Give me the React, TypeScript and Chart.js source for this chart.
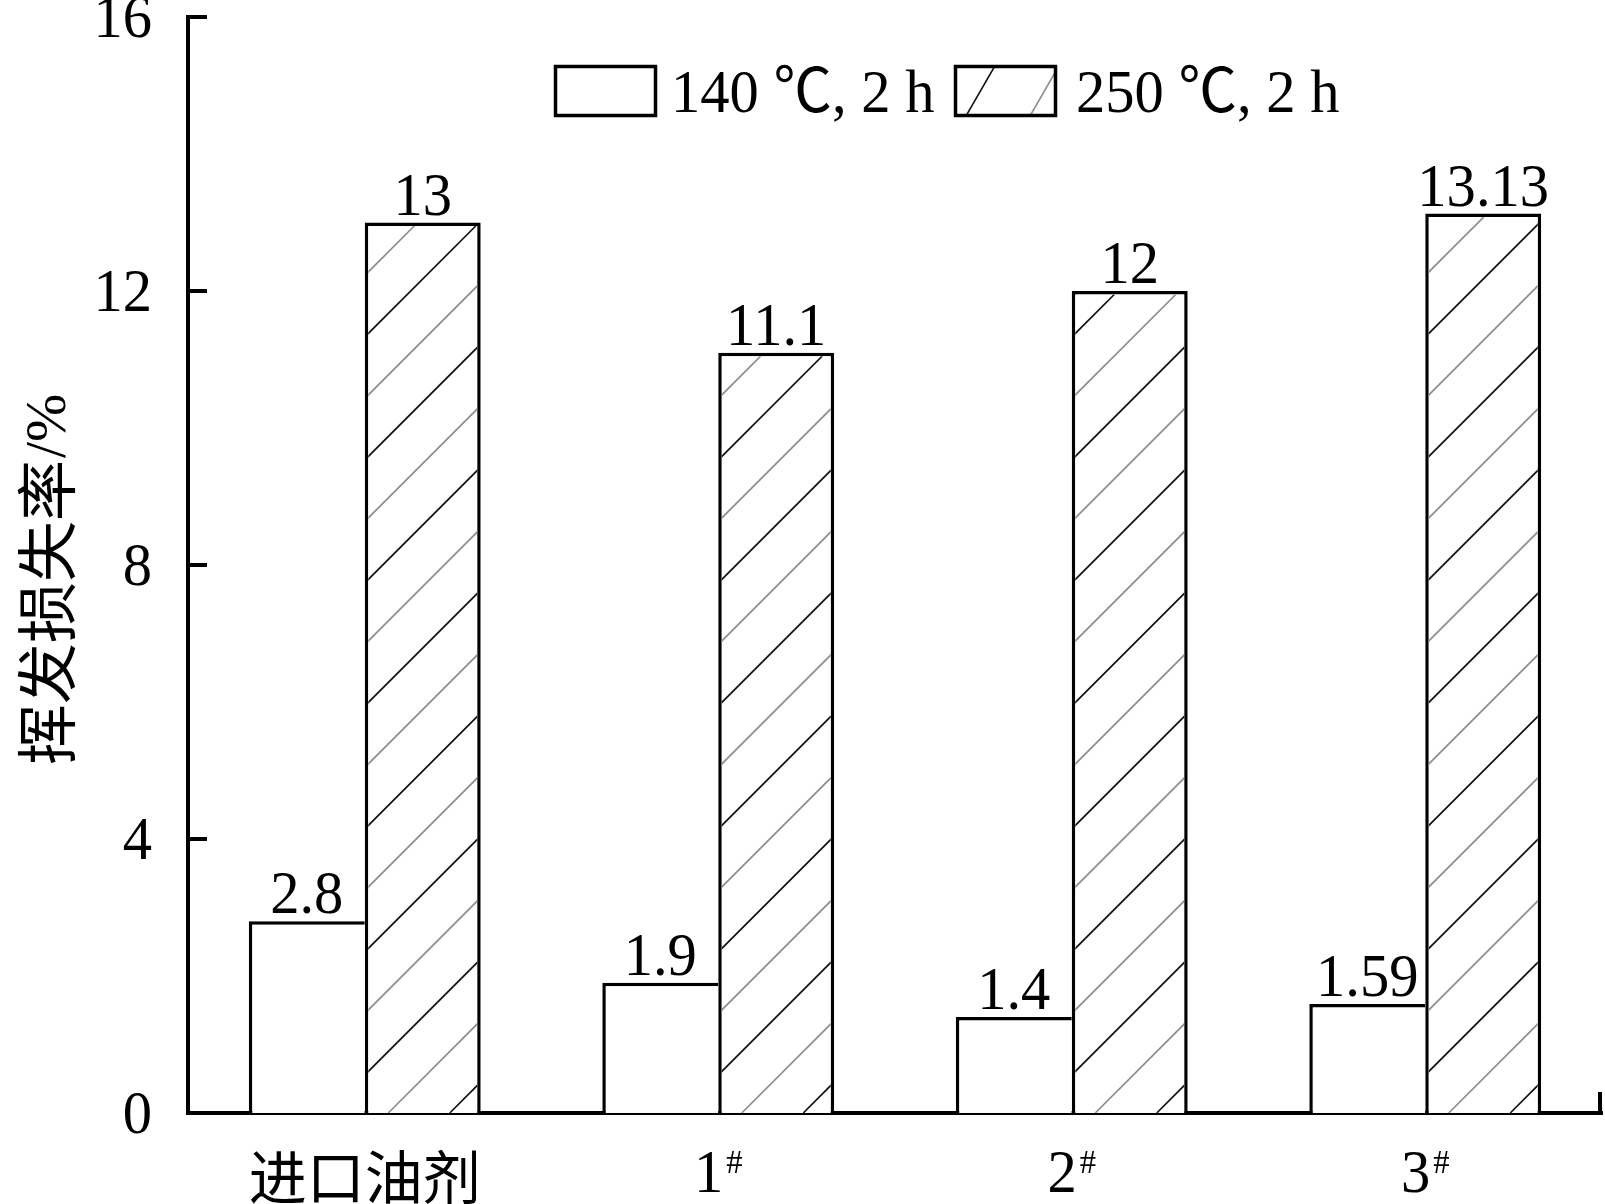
import React, { useEffect, useRef } from "react";
import { Chart, registerables } from "chart.js";

Chart.register(...registerables);

// Volatile loss (%) of the oil agents after 2 h at two temperatures
const categories = ["进口油剂", "1#", "2#", "3#"];
const series140 = [2.8, 1.9, 1.4, 1.59];
const series250 = [13, 11.1, 12, 13.13];
const seriesLabels = ["140 ℃, 2 h", "250 ℃, 2 h"];
const yTicks = [0, 4, 8, 12, 16];
const yTitleMain = "挥发损失率";
const yTitleUnit = "/%";

const SERIF = '"Liberation Serif", "Noto Sans CJK SC", serif';
const CJK = '"Noto Sans CJK SC", sans-serif';
const SX = 0.96; // slight horizontal squeeze for the serif digits

function drawText(
  ctx: CanvasRenderingContext2D,
  s: string,
  x: number,
  y: number,
  font: string,
  sx: number,
  align: "left" | "center" | "right"
): number {
  ctx.save();
  ctx.font = font;
  ctx.textAlign = "left";
  ctx.textBaseline = "alphabetic";
  const w = ctx.measureText(s).width * sx;
  const x0 = align === "center" ? x - w / 2 : align === "right" ? x - w : x;
  ctx.translate(x0, y);
  ctx.scale(sx, 1);
  ctx.fillStyle = "#000";
  ctx.fillText(s, 0, 0);
  ctx.restore();
  return w;
}

function measure(ctx: CanvasRenderingContext2D, s: string, font: string, sx: number) {
  ctx.save();
  ctx.font = font;
  const w = ctx.measureText(s).width * sx;
  ctx.restore();
  return w;
}

// diagonal hatch inside a rectangle; lines cross the bottom edge every `step` px
function hatch(
  ctx: CanvasRenderingContext2D,
  l: number,
  t: number,
  r: number,
  b: number,
  anchor: number,
  step: number,
  slope: number
) {
  ctx.save();
  ctx.beginPath();
  ctx.rect(l, t, r - l, b - t);
  ctx.clip();
  const h = b - t;
  const run = h / slope;
  const iStart = Math.floor((l - run - anchor) / step) - 1;
  for (let i = iStart; ; i++) {
    const xb = anchor + i * step;
    if (xb > r + 2) break;
    const parity = ((i % 2) + 2) % 2;
    ctx.strokeStyle = parity === 0 ? "#111" : "#8c8c8c";
    ctx.lineWidth = 1.6;
    ctx.beginPath();
    ctx.moveTo(xb, b);
    ctx.lineTo(xb + run, t);
    ctx.stroke();
  }
  ctx.restore();
}

const decor = {
  id: "decor",
  beforeDraw(chart: any) {
    const ctx = chart.ctx;
    ctx.save();
    ctx.fillStyle = "#fff";
    ctx.fillRect(0, 0, chart.width, chart.height);
    ctx.restore();
  },
  afterDatasetsDraw(chart: any) {
    const ctx = chart.ctx as CanvasRenderingContext2D;
    const meta = chart.getDatasetMeta(1);
    meta.data.forEach((el: any) => {
      const { x, y, base, width } = el.getProps(["x", "y", "base", "width"], true);
      const left = x - width / 2;
      hatch(ctx, left + 3.5, y + 3.5, x + width / 2 - 3.5, base, left - 38, 61.5, 1);
    });
  },
  afterDraw(chart: any) {
    const ctx = chart.ctx as CanvasRenderingContext2D;
    const area = chart.chartArea;
    const yScale = chart.scales.y;
    const xScale = chart.scales.x;
    const numFont = `61px ${SERIF}`;

    // inward y ticks and labels
    ctx.save();
    ctx.strokeStyle = "#000";
    ctx.lineWidth = 4;
    yTicks.forEach((v) => {
      const py = yScale.getPixelForValue(v);
      ctx.beginPath();
      ctx.moveTo(area.left, py);
      ctx.lineTo(area.left + 19, py);
      ctx.stroke();
      drawText(ctx, String(v), 152, py + 20, numFont, SX, "right");
    });
    // closing tick at the right end of the x axis
    ctx.beginPath();
    ctx.moveTo(area.right - 2, area.bottom);
    ctx.lineTo(area.right - 2, area.bottom - 21);
    ctx.stroke();
    ctx.restore();

    // category labels
    categories.forEach((c, i) => {
      const cx = xScale.getPixelForValue(i);
      if (c.endsWith("#")) {
        const main = c.slice(0, -1);
        const supFont = `34px ${SERIF}`;
        const w1 = measure(ctx, main, numFont, SX);
        const w2 = measure(ctx, "#", supFont, SX);
        const start = cx - (w1 + 3 + w2) / 2;
        drawText(ctx, main, start, 1192, numFont, SX, "left");
        drawText(ctx, "#", start + w1 + 3, 1173, supFont, SX, "left");
      } else {
        ctx.save();
        ctx.font = `58px ${CJK}`;
        ctx.textAlign = "center";
        ctx.textBaseline = "middle";
        ctx.fillStyle = "#000";
        ctx.fillText(c, cx, 1177);
        ctx.restore();
      }
    });

    // value labels above bars
    [series140, series250].forEach((vals, d) => {
      const m = chart.getDatasetMeta(d);
      m.data.forEach((el: any, i: number) => {
        const { x, y } = el.getProps(["x", "y"], true);
        drawText(ctx, String(vals[i]), x, y - 8, numFont, SX, "center");
      });
    });

    // legend
    ctx.save();
    ctx.strokeStyle = "#000";
    ctx.lineWidth = 3.5;
    ctx.strokeRect(555.5, 66.5, 100, 49);
    ctx.restore();
    drawText(ctx, seriesLabels[0], 671, 112, numFont, SX, "left");
    ctx.save();
    ctx.beginPath();
    ctx.rect(957, 68, 97, 46);
    ctx.clip();
    ctx.lineWidth = 1.6;
    ctx.strokeStyle = "#111";
    ctx.beginPath();
    ctx.moveTo(966, 116);
    ctx.lineTo(996, 64);
    ctx.stroke();
    ctx.strokeStyle = "#8c8c8c";
    ctx.beginPath();
    ctx.moveTo(1030, 116);
    ctx.lineTo(1060, 64);
    ctx.stroke();
    ctx.restore();
    ctx.save();
    ctx.strokeStyle = "#000";
    ctx.lineWidth = 3.5;
    ctx.strokeRect(955.5, 66.5, 100, 49);
    ctx.restore();
    drawText(ctx, seriesLabels[1], 1076, 112, numFont, SX, "left");

    // y axis title
    ctx.save();
    ctx.translate(47, 765);
    ctx.rotate(-Math.PI / 2);
    ctx.fillStyle = "#000";
    ctx.textBaseline = "middle";
    ctx.textAlign = "left";
    ctx.font = `61px ${CJK}`;
    ctx.fillText(yTitleMain, 0, 0);
    const wMain = ctx.measureText(yTitleMain).width;
    ctx.font = `58px ${SERIF}`;
    ctx.fillText(yTitleUnit, wMain + 2, 3);
    ctx.restore();
  },
};

export default function App() {
  const ref = useRef<HTMLCanvasElement | null>(null);

  useEffect(() => {
    if (!ref.current) return;
    const chart = new Chart(ref.current, {
      type: "bar",
      data: {
        labels: categories,
        datasets: [
          {
            label: seriesLabels[0],
            data: series140,
            backgroundColor: "#fff",
            borderColor: "#000",
            borderWidth: { left: 3.5, top: 3.5, right: 0, bottom: 0 },
            borderSkipped: false,
          },
          {
            label: seriesLabels[1],
            data: series250,
            backgroundColor: "#fff",
            borderColor: "#000",
            borderWidth: { left: 3.5, top: 3.5, right: 3.5, bottom: 0 },
            borderSkipped: false,
          },
        ],
      },
      options: {
        responsive: false,
        animation: false,
        devicePixelRatio: 1,
        layout: { padding: { left: 0, right: 3, top: 17, bottom: 0 } },
        datasets: { bar: { barPercentage: 1, categoryPercentage: 0.656 } },
        plugins: { legend: { display: false }, tooltip: { enabled: false } },
        scales: {
          x: {
            grid: { display: false },
            border: { display: true, color: "#000", width: 4 },
            ticks: { display: false },
            afterFit: (s: any) => {
              s.height = 91;
            },
          },
          y: {
            min: 0,
            max: 16,
            ticks: { display: false, stepSize: 4 },
            grid: { display: false },
            border: { display: true, color: "#000", width: 4 },
            afterFit: (s: any) => {
              s.width = 188;
            },
          },
        },
      },
      plugins: [decor],
    } as any);
    return () => chart.destroy();
  }, []);

  return (
    <div style={{ position: "absolute", left: 0, top: 0, width: 1605, height: 1204, background: "#fff" }}>
      <canvas ref={ref} width={1605} height={1204} style={{ display: "block" }} />
    </div>
  );
}
